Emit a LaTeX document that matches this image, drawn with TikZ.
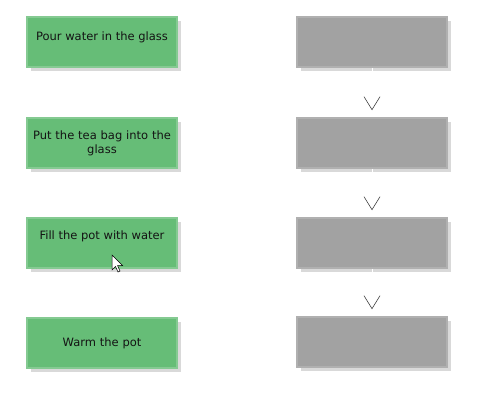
\documentclass[tikz,border=0pt]{standalone}
\usepackage{fontspec}
\setmainfont{DejaVu Sans}
\usetikzlibrary{shadows,arrows.meta}
\definecolor{boxgreen}{HTML}{66BD77}
\definecolor{boxgray}{HTML}{A2A2A2}
\definecolor{txt}{HTML}{141414}
\tikzset{
  stepbox/.style={rectangle, minimum width=150pt, minimum height=50pt, inner sep=0pt,
    drop shadow={shadow xshift=4pt, shadow yshift=-4pt, fill=black, opacity=0.15}},
  boxtext/.style={text=txt, font=\fontsize{11.5}{14}\selectfont},
  greenbox/.style={stepbox, fill=boxgreen, draw=boxgreen!80!white, line width=1.2pt,
    boxtext, align=center, text width=148pt},
  graybox/.style={stepbox, fill=boxgray, draw=boxgray!85!white, line width=1.5pt},
  flow/.style={white, line width=0.6pt, shorten >=7pt,
    -{Straight Barb[length=13pt, width=16pt, color=black!75, line width=0.6pt]}}
}
\begin{document}
\begin{tikzpicture}[x=1pt,y=-1pt]
\useasboundingbox (0,0) rectangle (490,416);
% green boxes
\node[greenbox] (g1) at (102,42) {};
\node[boxtext] (t1) at (102,37) {Pour water in the glass};
\node[greenbox] (g2) at (102,143) {Put the tea bag into the\\glass};
\node[greenbox] (g3) at (102,243) {};
\node[boxtext] (t3) at (102,236) {Fill the pot with water};
\node[greenbox] (g4) at (102,343) {Warm the pot};
% gray boxes
\node[graybox] (r1) at (372,42) {};
\node[graybox] (r2) at (372,143) {};
\node[graybox] (r3) at (372,243) {};
\node[graybox] (r4) at (372,342) {};
% connectors
\draw[flow] (r1.south) -- (r2.north);
\draw[flow] (r2.south) -- (r3.north);
\draw[flow] (r3.south) -- (r4.north);
% mouse cursor
\coordinate (cur) at (112,255);
\draw[black, fill=white, line width=0.5pt, shift={(cur)}]
  (0,0) -- (0,15) -- (3.5,11.5) -- (6,17) -- (8,16) -- (5.5,10.5) -- (10.5,10.5) -- cycle;
\end{tikzpicture}
\end{document}
